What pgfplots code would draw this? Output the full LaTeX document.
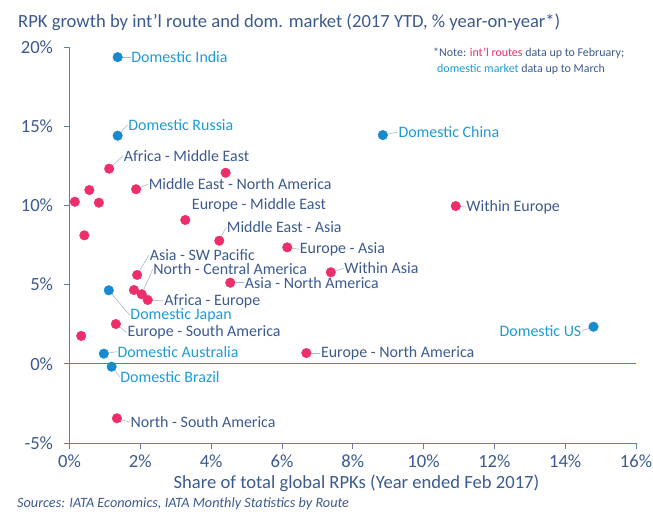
\documentclass[border=0pt]{standalone}
\usepackage{fontspec}
\setmainfont{Carlito}
\usepackage{pgfplots}
\pgfplotsset{compat=1.18}
\definecolor{txtcol}{HTML}{3C5A8E}
\definecolor{domcol}{HTML}{1E9BD7}
\definecolor{pinkc}{HTML}{EC2F6B}
\definecolor{bluec}{HTML}{1A8AD0}
\definecolor{axiscol}{HTML}{5A7FB5}
\definecolor{leadcol}{HTML}{A9B8CE}
\newcommand{\lbl}{\fontsize{16}{18}\selectfont}
\newcommand{\lab}[6]{%
 \draw[leadcol,line width=0.6pt] (axis cs:#1,#2) -- ([xshift=#3bp,yshift=#4bp]axis cs:#1,#2);
 \node[anchor=west,text=#6,font=\lbl,inner sep=0.5pt] at ([xshift=#3bp,yshift=#4bp]axis cs:#1,#2) {#5};}
\newcommand{\labE}[6]{%
 \draw[leadcol,line width=0.6pt] (axis cs:#1,#2) -- ([xshift=#3bp,yshift=#4bp]axis cs:#1,#2);
 \node[anchor=east,text=#6,font=\lbl,inner sep=0.5pt] at ([xshift=#3bp,yshift=#4bp]axis cs:#1,#2) {#5};}
\newcommand{\labN}[6]{%
 \node[anchor=west,text=#6,font=\lbl,inner sep=0.5pt] at ([xshift=#3bp,yshift=#4bp]axis cs:#1,#2) {#5};}
\begin{document}
\begin{tikzpicture}
\useasboundingbox (-69.5bp,-69bp) rectangle (583.5bp,443bp);
\begin{axis}[scale only axis, width=566.5bp, height=396bp,
  xmin=0, xmax=16, ymin=-5, ymax=20,
  axis x line*=bottom, axis y line*=left,
  xtick={0,2,...,16}, ytick={-5,0,...,20},
  xticklabels={0\%,2\%,4\%,6\%,8\%,10\%,12\%,14\%,16\%},
  yticklabels={-5\%,0\%,5\%,10\%,15\%,20\%},
  tick align=outside, major tick length=5.5bp,
  axis line style={axiscol, line width=0.8pt},
  tick style={axiscol, line width=0.8pt},
  ticklabel style={text=txtcol, font=\fontsize{18.67}{20}\selectfont},
  xticklabel style={yshift=-3bp},
  yticklabel style={xshift=-7.5bp},
  clip=false]
\draw[axiscol, line width=0.8pt] (axis cs:0,0) -- (axis cs:16,0);
% labels
\lab{1.36}{19.36}{13}{0}{Domestic India}{domcol}
\lab{1.36}{14.40}{10}{11}{Domestic Russia}{domcol}
\lab{8.85}{14.44}{15}{3}{Domestic China}{domcol}
\lab{1.12}{12.32}{14}{13}{Africa - Middle East}{txtcol}
\lab{1.88}{11.02}{12}{5}{Middle East - North America}{txtcol}
\labN{3.27}{9.08}{6}{15}{Europe - Middle East}{txtcol}
\lab{4.23}{7.77}{7}{14}{Middle East - Asia}{txtcol}
\lab{6.15}{7.35}{12}{-2}{Europe - Asia}{txtcol}
\lab{10.91}{9.96}{10}{-1}{Within Europe}{txtcol}
\lab{7.38}{5.78}{13}{4}{Within Asia}{txtcol}
\lab{1.91}{5.61}{12}{20}{Asia - SW Pacific}{txtcol}
\lab{2.04}{4.39}{11}{25}{North - Central America}{txtcol}
\lab{4.54}{5.12}{14}{0}{Asia - North America}{txtcol}
\lab{2.21}{4.03}{16}{-1}{Africa - Europe}{txtcol}
\lab{1.11}{4.64}{21}{-25}{Domestic Japan}{domcol}
\lab{1.31}{2.51}{11}{-8.5}{Europe - South America}{txtcol}
\lab{0.97}{0.64}{13}{2}{Domestic Australia}{domcol}
\lab{6.69}{0.68}{14}{0}{Europe - North America}{txtcol}
\lab{1.19}{-0.18}{8}{-10}{Domestic Brazil}{domcol}
\lab{1.34}{-3.44}{13}{-4}{North - South America}{txtcol}
\labE{14.80}{2.34}{-11.5}{-4}{Domestic US}{domcol}
\addplot[only marks, mark=*, mark size=4.8bp, mark options={draw=pinkc, fill=pinkc}] coordinates {
(4.41,12.06) (1.12,12.32) (1.88,11.02) (0.56,10.97) (0.15,10.23) (0.83,10.17)
(3.27,9.08) (0.42,8.11) (4.23,7.77) (6.15,7.35) (10.91,9.96) (7.38,5.78)
(1.91,5.61) (4.54,5.12) (1.82,4.66) (2.04,4.39) (2.21,4.03) (1.31,2.51)
(0.33,1.76) (6.69,0.68) (1.34,-3.44)};
\addplot[only marks, mark=*, mark size=4.8bp, mark options={draw=bluec, fill=bluec}] coordinates {
(1.36,19.36) (1.36,14.40) (8.85,14.44) (1.11,4.64) (0.97,0.64) (1.19,-0.18) (14.80,2.34)};
\end{axis}
\node[anchor=west, text=txtcol, font=\fontsize{18.67}{20}\selectfont, inner sep=0pt] at (-51.5bp,421bp) {RPK growth by int'l route and dom. market (2017 YTD, \% year-on-year*)};
\node[anchor=west, text=txtcol, font=\fontsize{12}{14}\selectfont, inner sep=0pt] at (363.5bp,390bp) {*Note: \textcolor{pinkc}{int'l routes} data up to February;};
\node[anchor=west, text=txtcol, font=\fontsize{12}{14}\selectfont, inner sep=0pt] at (367.5bp,374bp) {\textcolor{domcol}{domestic market} data up to March};
\node[text=txtcol, font=\fontsize{18.67}{20}\selectfont, inner sep=0pt] at (287bp,-40bp) {Share of total global RPKs (Year ended Feb 2017)};
\node[anchor=west, text=txtcol, font=\fontsize{14.3}{16}\selectfont\itshape, inner sep=0pt] at (-52.5bp,-61bp) {Sources: IATA Economics, IATA Monthly Statistics by Route};
\end{tikzpicture}
\end{document}
